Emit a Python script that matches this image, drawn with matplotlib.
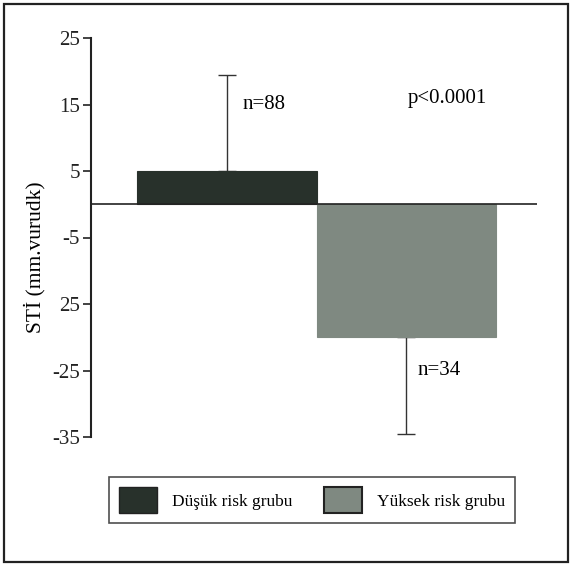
import matplotlib
matplotlib.use("Agg")
import matplotlib.pyplot as plt
from matplotlib.patches import Rectangle, Patch

categories = ["Düşük risk grubu", "Yüksek risk grubu"]
means = [5.0, -20.0]
sds = [14.5, 14.5]
n_labels = ["n=88", "n=34"]
p_label = "p<0.0001"
yticks = [25, 15, 5, -5, -15, -25, -35]
ytick_labels = ["25", "15", "5", "-5", "25", "-25", "-35"]
ylabel = "STİ (mm.vurudk)"
colors = ["#28312b", "#7f8981"]

plt.rcParams['font.family'] = ['Liberation Serif', 'DejaVu Serif']
fs_tick = 15
fs_ann = 15
fs_ylab = 15.5
fs_leg = 12.5

fig = plt.figure(figsize=(5.72, 5.66), dpi=100)
W, H = 572, 566
ax = fig.add_axes([91 / W, 1 - 437 / H, (537 - 91) / W, (437 - 38) / H])

x = [0, 1]
ax.bar(x, means, width=1.0, color=colors, edgecolor=colors, linewidth=0.8, zorder=2)
yerr = [[0 if m > 0 else s for m, s in zip(means, sds)],
        [s if m > 0 else 0 for m, s in zip(means, sds)]]
ax.errorbar(x, means, yerr=yerr, fmt='none', ecolor='#333333', elinewidth=1.0,
            capsize=6.5, capthick=1.0, zorder=1)
ax.axhline(0, color='#222222', linewidth=1.2, zorder=3)

ax.set_xlim(-0.756, 1.728)
ax.set_ylim(-35, 25)
ax.set_yticks(yticks)
ax.set_yticklabels(ytick_labels, fontsize=fs_tick)
ax.set_xticks([])
for s in ['top', 'right', 'bottom']:
    ax.spines[s].set_visible(False)
ax.spines['left'].set_linewidth(1.5)
ax.spines['left'].set_color('#222222')
ax.tick_params(axis='y', direction='out', length=6, width=1.2, pad=2, colors='#222222')
ax.set_ylabel(ylabel, fontsize=fs_ylab)
ax.yaxis.set_label_coords(-0.101, 0.451)

ax.text(0.09, 15, n_labels[0], fontsize=fs_ann, va='center', ha='left')
ax.text(1.06, -25, n_labels[1], fontsize=fs_ann, va='center', ha='left')
ax.text(1.01, 15.9, p_label, fontsize=fs_ann, va='center', ha='left')

handles = [Patch(facecolor=colors[0], edgecolor='#222222'),
           Patch(facecolor=colors[1], edgecolor='#222222', linewidth=1.5)]
leg = fig.legend(handles, categories, loc='center',
                 bbox_to_anchor=(312 / W, 1 - 500 / H),
                 ncol=2, fontsize=fs_leg, frameon=True, fancybox=False,
                 edgecolor='#222222', handlelength=2.2, handleheight=1.9,
                 columnspacing=1.8, borderpad=0.6, handletextpad=0.85,
                 borderaxespad=0)
leg.get_frame().set_linewidth(1.2)

fig.patches.append(Rectangle((4 / W, 4 / H), 1 - 8 / W, 1 - 8 / H,
                             transform=fig.transFigure, fill=False,
                             edgecolor='#222222', linewidth=1.6))

fig.savefig("out.png", dpi=100)
